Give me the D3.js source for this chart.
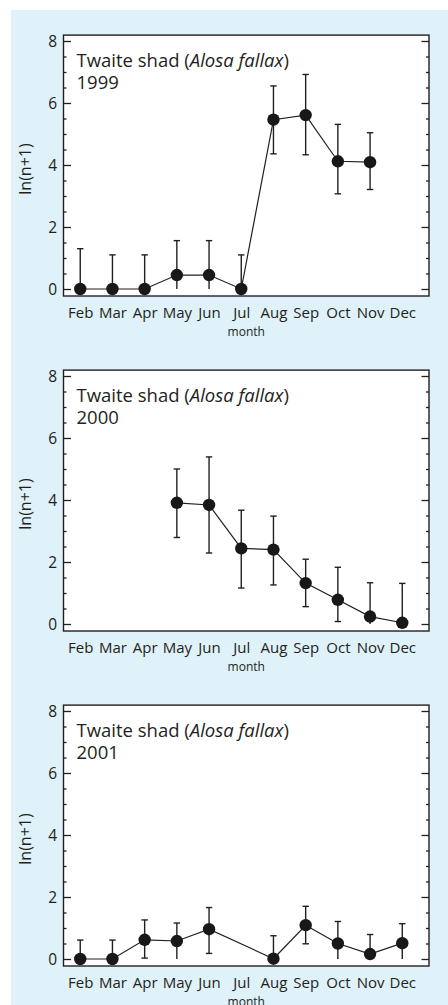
<!DOCTYPE html>
<html>
<head>
<meta charset="utf-8">
<script src="https://cdn.jsdelivr.net/npm/d3@7"></script>
<style>
  html, body { margin: 0; padding: 0; background: #ffffff; }
  svg { display: block; }
  text { font-family: "Open Sans", "Noto Sans", sans-serif; fill: #231f20; }
</style>
</head>
<body>
<svg id="chart" width="448" height="1005"></svg>
<script>
// ---- data ----
const months = ["Feb", "Mar", "Apr", "May", "Jun", "Jul", "Aug", "Sep", "Oct", "Nov", "Dec"];
const years = ["1999", "2000", "2001"];
// mean ln(n+1) per month (null = no sample)
const mean1999 = [0, 0, 0, 0.45, 0.45, 0, 5.46, 5.61, 4.12, 4.09, null];
const low1999  = [0, 0, 0, 0, 0, 0, 4.36, 4.33, 3.07, 3.21, null];
const high1999 = [1.30, 1.10, 1.10, 1.56, 1.56, 1.10, 6.55, 6.92, 5.31, 5.04, null];
const mean2000 = [null, null, null, 3.91, 3.84, 2.44, 2.40, 1.32, 0.78, 0.24, 0.04];
const low2000  = [null, null, null, 2.79, 2.29, 1.16, 1.26, 0.56, 0.08, 0, 0];
const high2000 = [null, null, null, 5.00, 5.39, 3.67, 3.48, 2.09, 1.83, 1.33, 1.31];
const mean2001 = [0, 0, 0.62, 0.58, 0.96, null, 0.01, 1.09, 0.50, 0.16, 0.51];
const low2001  = [0, 0, 0.03, 0, 0.18, null, 0, 0.49, 0, 0, 0];
const high2001 = [0.61, 0.61, 1.26, 1.16, 1.66, null, 0.75, 1.70, 1.21, 0.79, 1.14];
const yTicks = [0, 2, 4, 6, 8];
const speciesLabel = "Twaite shad";
const latinName = "Alosa fallax";
const yLabel = "ln(n+1)";
const xLabel = "month";

const panels = [
  { year: years[0], mean: mean1999, low: low1999, high: high1999 },
  { year: years[1], mean: mean2000, low: low2000, high: high2000 },
  { year: years[2], mean: mean2001, low: low2001, high: high2001 }
];

const svg = d3.select("#chart");
svg.append("rect").attr("x", 11).attr("y", 10).attr("width", 437).attr("height", 995).attr("fill", "#dff1f9");

const boxL = 63.5, boxR = 429, panelStep = 335;
const x = d3.scaleLinear().domain([-0.52, 10.83]).range([boxL, boxR]);
const ink = "#231f20";

panels.forEach((p, pi) => {
  const off = pi * panelStep;
  const y = d3.scaleLinear().domain([0, 8]).range([289 + off, 41 + off]);
  const yTop = y(8.19), yBot = y(-0.226);
  const g = svg.append("g");

  g.append("rect").attr("x", boxL).attr("y", yTop).attr("width", boxR - boxL).attr("height", yBot - yTop)
    .attr("fill", "#ffffff").attr("stroke", ink).attr("stroke-width", 1.4);

  // minor ticks (every 0.5)
  const minor = d3.range(0.5, 8, 0.5).filter(v => v % 2 !== 0);
  const leftAxis = d3.axisRight(y).tickValues(yTicks).tickSize(7.5).tickFormat("");
  const gl = g.append("g").attr("transform", `translate(${boxL},0)`).call(leftAxis);
  const leftMinor = d3.axisRight(y).tickValues(minor).tickSize(3).tickFormat("");
  const glm = g.append("g").attr("transform", `translate(${boxL},0)`).call(leftMinor);
  const rightAxis = d3.axisLeft(y).tickValues(yTicks).tickSize(7.5).tickFormat("");
  const gr = g.append("g").attr("transform", `translate(${boxR},0)`).call(rightAxis);
  const rightMinor = d3.axisLeft(y).tickValues(minor).tickSize(3).tickFormat("");
  const grm = g.append("g").attr("transform", `translate(${boxR},0)`).call(rightMinor);
  [gl, glm, gr, grm].forEach(a => {
    a.select(".domain").remove();
    a.selectAll("line").attr("stroke", ink).attr("stroke-width", 1.3);
  });

  // y tick labels
  const labAxis = d3.axisLeft(y).tickValues(yTicks).tickSize(0).tickPadding(0).tickFormat(d3.format("d"));
  const gyl = g.append("g").attr("transform", `translate(${57},0)`).call(labAxis);
  gyl.select(".domain").remove();
  gyl.selectAll("text").attr("font-size", 15.5).attr("fill", ink).attr("dy", "0.36em");

  // x tick labels
  const xAxis = d3.axisBottom(x).tickValues(d3.range(months.length)).tickSize(0).tickPadding(0)
    .tickFormat(i => months[i]);
  const gx = g.append("g").attr("transform", `translate(0,${318 + off})`).call(xAxis);
  gx.select(".domain").remove();
  gx.selectAll("text").attr("font-size", 15).attr("fill", ink).attr("dy", 0);

  // axis titles
  g.append("text").attr("x", (boxL + boxR) / 2).attr("y", 336 + off).attr("text-anchor", "middle")
    .attr("font-size", 12).text(xLabel);
  g.append("text").attr("transform", `translate(31,${169 + off}) rotate(-90)`).attr("text-anchor", "middle")
    .attr("font-size", 16).text(yLabel);

  // panel title
  const t = g.append("text").attr("x", 76.5).attr("y", 66.7 + off).attr("font-size", 18.5);
  t.append("tspan").text(speciesLabel + " (");
  t.append("tspan").attr("font-style", "italic").text(latinName);
  t.append("tspan").text(")");
  g.append("text").attr("x", 76.5).attr("y", 89.3 + off).attr("font-size", 18.5).text(p.year);

  const pts = months.map((m, i) => ({ i, v: p.mean[i], lo: p.low[i], hi: p.high[i] })).filter(d => d.v !== null);

  // error bars
  const eb = g.append("g").attr("stroke", ink).attr("stroke-width", 1.4);
  pts.forEach(d => {
    eb.append("line").attr("x1", x(d.i)).attr("x2", x(d.i)).attr("y1", y(d.lo)).attr("y2", y(d.hi));
    eb.append("line").attr("x1", x(d.i) - 3.2).attr("x2", x(d.i) + 3.2).attr("y1", y(d.hi)).attr("y2", y(d.hi));
    if (d.lo > 0.02) eb.append("line").attr("x1", x(d.i) - 3.2).attr("x2", x(d.i) + 3.2).attr("y1", y(d.lo)).attr("y2", y(d.lo));
  });

  const line = d3.line().x(d => x(d.i)).y(d => y(d.v));
  g.append("path").datum(pts).attr("d", line).attr("fill", "none").attr("stroke", ink).attr("stroke-width", 1.2);

  g.selectAll("circle.pt").data(pts).join("circle").attr("class", "pt")
    .attr("cx", d => x(d.i)).attr("cy", d => y(d.v)).attr("r", 6.2).attr("fill", "#1a1718");
});
</script>
</body>
</html>
